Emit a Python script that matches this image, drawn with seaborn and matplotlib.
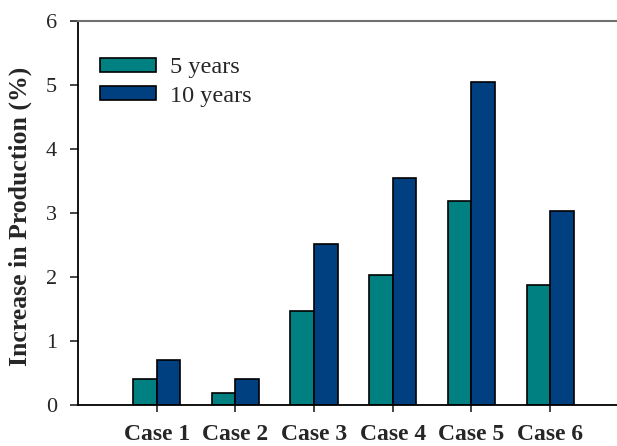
import matplotlib
matplotlib.use("Agg")
import matplotlib.pyplot as plt
import seaborn as sns
import pandas as pd

cases = ["Case 1", "Case 2", "Case 3", "Case 4", "Case 5", "Case 6"]
five_years = [0.41, 0.18, 1.47, 2.03, 3.18, 1.87]
ten_years = [0.70, 0.40, 2.52, 3.54, 5.05, 3.03]
series_names = ["5 years", "10 years"]
colors = ["#008080", "#003F80"]

df = pd.DataFrame({
    "case": cases * 2,
    "value": five_years + ten_years,
    "period": [series_names[0]] * len(cases) + [series_names[1]] * len(cases),
})

sns.set_style("white")
plt.rcParams["font.family"] = ["Liberation Serif", "DejaVu Serif"]

fig = plt.figure(figsize=(6.17, 4.46), dpi=100)
ax = fig.add_axes([0.1264, 0.0919, 0.8736, 0.861])

sns.barplot(data=df, x="case", y="value", hue="period", palette=colors,
            width=0.6, saturation=1, edgecolor="black", linewidth=1.2, ax=ax)

ax.set_xlim(-1.0, 5.85)
ax.set_ylim(0, 6)
ax.set_yticks(range(0, 7))
ax.set_xlabel("")
ax.set_ylabel("Increase in Production (%)", fontsize=18.5, fontweight="bold")
ax.yaxis.set_label_coords(-0.085, 0.491)

ax.tick_params(axis="y", direction="out", length=6, width=1.2, labelsize=16, pad=9, left=True)
ax.tick_params(axis="x", direction="out", length=5, width=1.2, labelsize=17, pad=9, bottom=True)
for lab in ax.get_xticklabels():
    lab.set_fontweight("bold")

for side in ["left", "bottom"]:
    ax.spines[side].set_color("black")
    ax.spines[side].set_linewidth(1.3)
ax.spines["top"].set_color("#707070")
ax.spines["top"].set_linewidth(1.5)
ax.spines["right"].set_visible(False)

ax.legend(loc="upper left", bbox_to_anchor=(0.041, 0.905), frameon=False,
          fontsize=17.5, handlelength=2.3, handleheight=0.5, handletextpad=0.58,
          labelspacing=0.3, borderaxespad=0, borderpad=0)

fig.savefig("out.png", dpi=100)
